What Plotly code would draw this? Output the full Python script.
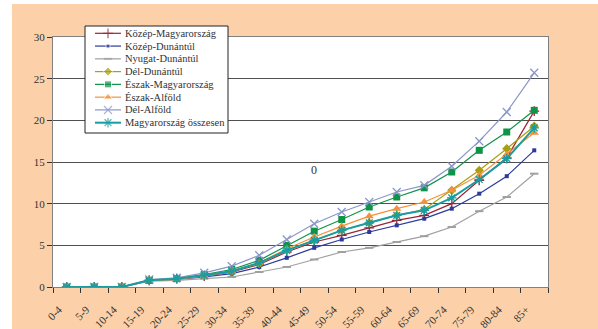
import plotly.graph_objects as go

categories = ["0-4", "5-9", "10-14", "15-19", "20-24", "25-29", "30-34", "35-39",
              "40-44", "45-49", "50-54", "55-59", "60-64", "65-69", "70-74",
              "75-79", "80-84", "85+"]

kozep_magyarorszag = [0, 0, 0, 0.8, 1.0, 1.3, 1.8, 2.7, 4.2, 5.4, 6.2, 7.1, 8.0, 8.6, 10.0, 12.8, 15.5, 21.1]
kozep_dunantul = [0, 0, 0, 0.8, 0.9, 1.2, 1.6, 2.4, 3.5, 4.7, 5.7, 6.6, 7.4, 8.2, 9.4, 11.2, 13.3, 16.4]
nyugat_dunantul = [0, 0, 0, 0.7, 0.8, 1.0, 1.2, 1.8, 2.4, 3.3, 4.2, 4.7, 5.4, 6.1, 7.2, 9.1, 10.8, 13.6]
del_dunantul = [0, 0, 0, 0.8, 1.0, 1.4, 1.9, 2.8, 4.4, 5.6, 6.8, 7.7, 8.6, 9.3, 11.6, 14.0, 16.6, 19.3]
eszak_magyarorszag = [0, 0, 0, 0.8, 1.0, 1.5, 2.1, 3.2, 5.0, 6.7, 8.1, 9.6, 10.8, 11.9, 13.8, 16.4, 18.6, 21.2]
eszak_alfold = [0, 0, 0, 0.8, 0.9, 1.3, 1.9, 2.9, 4.6, 6.0, 7.3, 8.5, 9.4, 10.2, 11.6, 13.4, 15.9, 18.5]
del_alfold = [0, 0, 0, 0.9, 1.1, 1.7, 2.5, 3.8, 5.7, 7.6, 9.0, 10.2, 11.4, 12.2, 14.5, 17.5, 21.0, 25.7]
osszesen = [0, 0, 0, 0.8, 1.0, 1.4, 1.9, 2.9, 4.4, 5.6, 6.8, 7.7, 8.6, 9.2, 10.7, 12.9, 15.4, 19.1]

series_names = ["Közép-Magyarország", "Közép-Dunántúl", "Nyugat-Dunántúl", "Dél-Dunántúl",
                "Észak-Magyarország", "Észak-Alföld", "Dél-Alföld", "Magyarország összesen"]
series_values = [kozep_magyarorszag, kozep_dunantul, nyugat_dunantul, del_dunantul,
                 eszak_magyarorszag, eszak_alfold, del_alfold, osszesen]
y_ticks = [0, 5, 10, 15, 20, 25, 30]

# style per series: colour, marker symbol, marker size, line width
styles = [
    ("#9B2335", "cross-thin", 7, 1.2),
    ("#2B3A9B", "square", 4, 1.2),
    ("#A0A0A0", "line-ew", 6, 1.2),
    ("#A8A010", "diamond", 7, 1.2),
    ("#0E9448", "square", 7, 1.2),
    ("#F5913A", "triangle-up", 8, 1.2),
    ("#8A96C8", "x-thin", 8, 1.2),
    ("#1A9CA0", "asterisk", 8, 2),
]

def make_marker(color, sym, size):
    m = dict(symbol=sym, size=size, color=color)
    if sym in ("cross-thin", "x-thin", "asterisk", "line-ew"):
        m["line"] = dict(color=color, width=2 if sym == "line-ew" else 1.3)
    return m

serif = "Liberation Serif, Times New Roman, serif"
W, H = 598, 329
PL, PR, PT, PB = 53, 548, 37, 287   # plot area in pixels

fig = go.Figure()
for name, vals, (color, sym, size, width) in zip(series_names, series_values, styles):
    fig.add_trace(go.Scatter(
        x=categories, y=vals, name=name, mode="lines+markers",
        line=dict(color=color, width=width), marker=make_marker(color, sym, size),
        xaxis="x", yaxis="y", showlegend=False,
    ))

# ---- compact legend drawn on a full-figure overlay subplot (pixel coordinates) ----
LX0, LX1, LY0, LY1 = 85, 228, 26, 133
row0, row_step = 33.3, 12.77
fig.add_trace(go.Scatter(
    x=[LX0, LX1, LX1, LX0, LX0], y=[LY0, LY0, LY1, LY1, LY0], mode="lines",
    fill="toself", fillcolor="white", line=dict(color="#222222", width=1),
    xaxis="x2", yaxis="y2", showlegend=False, hoverinfo="skip",
))
annotations = []
for i, (name, (color, sym, size, width)) in enumerate(zip(series_names, styles)):
    yy = row0 + row_step * i
    m = make_marker(color, sym, size)
    m["size"] = [0, size, 0]
    fig.add_trace(go.Scatter(
        x=[95, 108, 121], y=[yy, yy, yy], mode="lines+markers",
        line=dict(color=color, width=width), marker=m,
        xaxis="x2", yaxis="y2", showlegend=False, hoverinfo="skip",
    ))
    annotations.append(dict(
        text=name, xref="x2", yref="y2", x=123, y=yy, xanchor="left", yanchor="middle",
        showarrow=False, font=dict(family=serif, size=10.5, color="#333333"),
    ))

annotations.append(dict(
    text="0", xref="x2", yref="y2", x=314, y=170, showarrow=False,
    font=dict(family=serif, size=12, color="#333333"),
))

fig.update_layout(
    width=W, height=H,
    margin=dict(l=0, r=0, t=0, b=0),
    paper_bgcolor="white",
    plot_bgcolor="rgba(0,0,0,0)",
    font=dict(family=serif, size=11, color="#333333"),
    showlegend=False,
    shapes=[
        dict(type="rect", xref="paper", yref="paper", x0=12 / W, x1=1,
             y0=0, y1=(H - 4) / H, fillcolor="#FCD1A9", line=dict(width=0), layer="below"),
        dict(type="rect", xref="paper", yref="paper", x0=PL / W, x1=PR / W,
             y0=(H - PB) / H, y1=(H - PT) / H, fillcolor="white", line=dict(width=0), layer="below"),
    ],
    annotations=annotations,
    xaxis=dict(
        domain=[PL / W, PR / W], anchor="y",
        type="category", range=[-0.5, len(categories) - 0.5],
        tickangle=-45, tickson="boundaries",
        ticks="outside", ticklen=5, tickcolor="#333333",
        ticklabelshift=-8, ticklabelstandoff=11,
        showline=True, linecolor="#808080", linewidth=1, mirror=True,
        showgrid=False, automargin=False,
        tickfont=dict(family=serif, size=11, color="#333333"),
    ),
    yaxis=dict(
        domain=[(H - PB) / H, (H - PT) / H], anchor="x",
        range=[0, 30], tickvals=y_ticks, ticks="outside", ticklen=5, tickcolor="#333333",
        showline=True, linecolor="#808080", linewidth=1, mirror=True,
        showgrid=True, gridcolor="#505050", gridwidth=1, zeroline=False, automargin=False,
        tickfont=dict(family=serif, size=11, color="#333333"),
    ),
    xaxis2=dict(domain=[0, 1], anchor="y2", range=[0, W], visible=False,
                showgrid=False, zeroline=False, fixedrange=True),
    yaxis2=dict(domain=[0, 1], anchor="x2", range=[H, 0], visible=False,
                showgrid=False, zeroline=False, fixedrange=True),
)

fig.write_html("out.html", config={"displayModeBar": False},
               post_script="document.body.style.margin='0';document.body.style.overflow='hidden';")
